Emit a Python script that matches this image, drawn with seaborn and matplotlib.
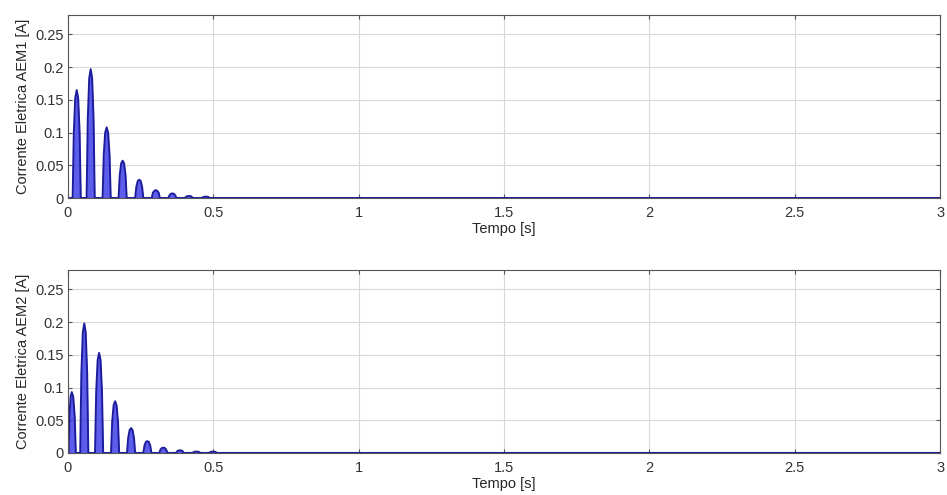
import pandas as pd
import seaborn as sns
import matplotlib.pyplot as plt

# Corrente AEM1 (top panel): time [s] and current [A]
t_aem1 = [0.0, 0.016, 0.020, 0.025, 0.030, 0.035, 0.040, 0.044,
          0.064, 0.068, 0.073, 0.078, 0.083, 0.088, 0.092,
          0.119, 0.123, 0.128, 0.133, 0.138, 0.143, 0.147,
          0.174, 0.178, 0.183, 0.188, 0.193, 0.198, 0.202,
          0.231, 0.235, 0.240, 0.245, 0.250, 0.255, 0.259,
          0.288, 0.292, 0.297, 0.302, 0.307, 0.312, 0.316,
          0.345, 0.349, 0.354, 0.359, 0.364, 0.369, 0.373,
          0.402, 0.409, 0.416, 0.423, 0.430,
          0.460, 0.467, 0.474, 0.481, 0.488, 3.0]
i_aem1 = [0.0, 0.0, 0.100, 0.153, 0.165, 0.153, 0.100, 0.0,
          0.0, 0.120, 0.183, 0.197, 0.183, 0.120, 0.0,
          0.0, 0.066, 0.100, 0.108, 0.100, 0.066, 0.0,
          0.0, 0.035, 0.053, 0.057, 0.053, 0.035, 0.0,
          0.0, 0.017, 0.026, 0.028, 0.026, 0.017, 0.0,
          0.0, 0.008, 0.011, 0.012, 0.011, 0.008, 0.0,
          0.0, 0.004, 0.0065, 0.007, 0.0065, 0.004, 0.0,
          0.0, 0.0027, 0.003, 0.0027, 0.0,
          0.0, 0.0018, 0.002, 0.0018, 0.0, 0.0]

# Corrente AEM2 (bottom panel)
t_aem2 = [0.0, 0.002, 0.005, 0.009, 0.013, 0.018, 0.023, 0.027,
          0.042, 0.046, 0.051, 0.056, 0.061, 0.066, 0.070,
          0.093, 0.097, 0.102, 0.107, 0.112, 0.117, 0.121,
          0.148, 0.152, 0.157, 0.162, 0.167, 0.172, 0.176,
          0.203, 0.207, 0.212, 0.217, 0.222, 0.227, 0.231,
          0.259, 0.263, 0.268, 0.273, 0.278, 0.283, 0.287,
          0.314, 0.318, 0.323, 0.328, 0.333, 0.338, 0.342,
          0.371, 0.378, 0.385, 0.392, 0.399,
          0.428, 0.435, 0.442, 0.449, 0.456,
          0.485, 0.492, 0.499, 0.506, 0.513, 3.0]
i_aem2 = [0.0, 0.0, 0.056, 0.086, 0.093, 0.086, 0.056, 0.0,
          0.0, 0.121, 0.184, 0.198, 0.184, 0.121, 0.0,
          0.0, 0.093, 0.142, 0.153, 0.142, 0.093, 0.0,
          0.0, 0.048, 0.073, 0.079, 0.073, 0.048, 0.0,
          0.0, 0.023, 0.035, 0.038, 0.035, 0.023, 0.0,
          0.0, 0.011, 0.017, 0.018, 0.017, 0.011, 0.0,
          0.0, 0.005, 0.0075, 0.008, 0.0075, 0.005, 0.0,
          0.0, 0.0035, 0.004, 0.0035, 0.0,
          0.0, 0.0018, 0.002, 0.0018, 0.0,
          0.0, 0.0018, 0.002, 0.0018, 0.0, 0.0]

x_ticks = [0, 0.5, 1, 1.5, 2, 2.5, 3]
x_ticklabels = ["0", "0.5", "1", "1.5", "2", "2.5", "3"]
y_ticks = [0, 0.05, 0.1, 0.15, 0.2, 0.25]
y_ticklabels = ["0", "0.05", "0.1", "0.15", "0.2", "0.25"]

panels = [
    (t_aem1, i_aem1, "Corrente Eletrica AEM1 [A]", [0.0718, 0.600, 0.921, 0.370]),
    (t_aem2, i_aem2, "Corrente Eletrica AEM2 [A]", [0.0718, 0.085, 0.921, 0.370]),
]

sns.set_style("whitegrid")
plt.rcParams["font.family"] = ["Liberation Sans", "DejaVu Sans"]
plt.rcParams["font.size"] = 10.5

fig = plt.figure(figsize=(9.47, 4.95), dpi=100)

for t, i, ylabel, rect in panels:
    ax = fig.add_axes(rect)
    df = pd.DataFrame({"Tempo": t, "Corrente": i})
    ax.fill_between(df["Tempo"], df["Corrente"], color="#3535e8", alpha=0.8, lw=0)
    sns.lineplot(data=df, x="Tempo", y="Corrente", ax=ax, color="#1c1c9c",
                 linewidth=1.4, estimator=None, sort=False)
    ax.set_xlim(0, 3)
    ax.set_ylim(0, 0.28)
    ax.set_xticks(x_ticks)
    ax.set_xticklabels(x_ticklabels)
    ax.set_yticks(y_ticks)
    ax.set_yticklabels(y_ticklabels)
    ax.set_xlabel("Tempo [s]", labelpad=1)
    ax.set_ylabel(ylabel, labelpad=4)
    ax.grid(True, color="#d9d9d9", linewidth=0.8)
    ax.tick_params(direction="in", length=3, pad=6, color="#555555",
                   labelcolor="#333333", top=True, right=True,
                   bottom=True, left=True)
    ax.tick_params(axis="y", pad=3)
    for spine in ax.spines.values():
        spine.set_color("#555555")
        spine.set_linewidth(0.8)

fig.savefig("out.png", dpi=100)
